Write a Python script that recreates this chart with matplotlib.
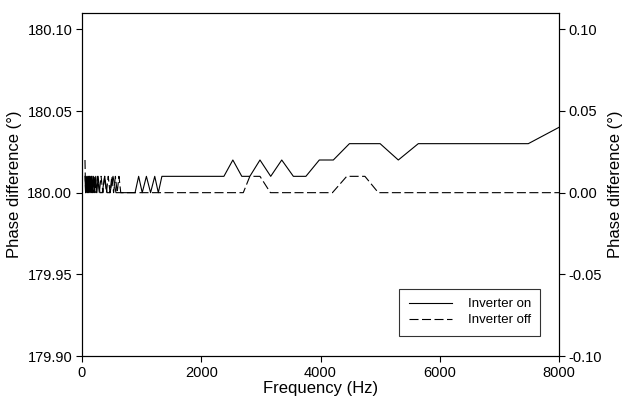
import matplotlib
matplotlib.use('Agg')
import matplotlib.pyplot as plt
import numpy as np

plt.rcParams['font.family'] = ['Liberation Sans', 'DejaVu Sans']
plt.rcParams['lines.scale_dashes'] = False

# inverter on (left axis, deg)
freq_on = [50, 60, 70, 80, 90, 100, 110, 120, 130, 140, 150, 160, 170, 180, 195,
           210, 230, 250, 270, 300, 340, 380, 420, 470, 520, 570, 620, 690,
           890, 950, 1010, 1080, 1150, 1220, 1280, 1340, 2380, 2530, 2680, 2815,
           2985, 3165, 3350, 3545, 3755, 3980, 4215, 4485, 5000, 5305, 5640, 7485, 8000]
phase_on = [180.01, 180.00, 180.01, 180.00, 180.01, 180.00, 180.01, 180.00, 180.01,
            180.00, 180.01, 180.00, 180.01, 180.00, 180.01, 180.00, 180.01, 180.00,
            180.01, 180.00, 180.00, 180.01, 180.00, 180.00, 180.01, 180.00, 180.00,
            180.00,
            180.00, 180.01, 180.00, 180.01, 180.00, 180.01, 180.00, 180.01, 180.01,
            180.02, 180.01, 180.01, 180.02, 180.01, 180.02, 180.01, 180.01, 180.02,
            180.02, 180.03, 180.03, 180.02, 180.03, 180.03, 180.04]

# inverter off (right axis, deg)
freq_off = [50, 60, 80, 100, 120, 140, 160, 185, 210, 235, 260, 290, 320, 350, 380,
            410, 440, 470, 500, 530, 560, 590, 620, 650, 690,
            2705, 2815, 2985, 3160, 4200, 4440, 4745, 4970, 8000]
phase_off = [0.02, 0.00, 0.01, 0.00, 0.01, 0.00, 0.01, 0.00, 0.01, 0.00, 0.01, 0.00,
             0.01, 0.00, 0.01, 0.00, 0.01, 0.00, 0.01, 0.00, 0.01, 0.00, 0.01, 0.00,
             0.00,
             0.00, 0.01, 0.01, 0.00, 0.00, 0.01, 0.01, 0.00, 0.00]

fig = plt.figure(figsize=(6.22, 4.0), dpi=100)
ax1 = fig.add_axes([82/622, 1 - 356/400, (559 - 82)/622, (356 - 13)/400])
ax2 = ax1.twinx()

l1, = ax1.plot(freq_on, phase_on, color='black', linewidth=0.8, label='Inverter on')
l2, = ax2.plot(freq_off, phase_off, color='black', linewidth=0.8,
               dashes=(6.5, 2.5), label='Inverter off')

ax1.set_xlim(0, 8000)
ax1.set_ylim(179.90, 180.11)
ax2.set_ylim(-0.10, 0.11)
ax1.set_xticks([0, 2000, 4000, 6000, 8000])
ax1.set_yticks([179.90, 179.95, 180.00, 180.05, 180.10])
ax2.set_yticks([-0.10, -0.05, 0.00, 0.05, 0.10])
ax1.yaxis.set_major_formatter(matplotlib.ticker.FormatStrFormatter('%.2f'))
ax2.yaxis.set_major_formatter(matplotlib.ticker.FormatStrFormatter('%.2f'))

for ax in (ax1, ax2):
    ax.tick_params(direction='out', length=4, width=0.8, labelsize=10.5, pad=3)
    for s in ax.spines.values():
        s.set_linewidth(0.8)

ax1.set_xlabel('Frequency (Hz)', fontsize=12, labelpad=1)
ax1.set_ylabel('Phase difference (°)', fontsize=12, labelpad=4)
ax2.set_ylabel('Phase difference (°)', fontsize=12, labelpad=4)

leg = ax1.legend(handles=[l1, l2], loc='lower right', bbox_to_anchor=(0.975, 0.04),
                 fontsize=9.5, frameon=True, fancybox=False, handlelength=3.3,
                 borderpad=0.7, labelspacing=0.3, handletextpad=1.2)
leg.get_frame().set_edgecolor('black')
leg.get_frame().set_linewidth(0.8)

fig.savefig('out.png', dpi=100)
